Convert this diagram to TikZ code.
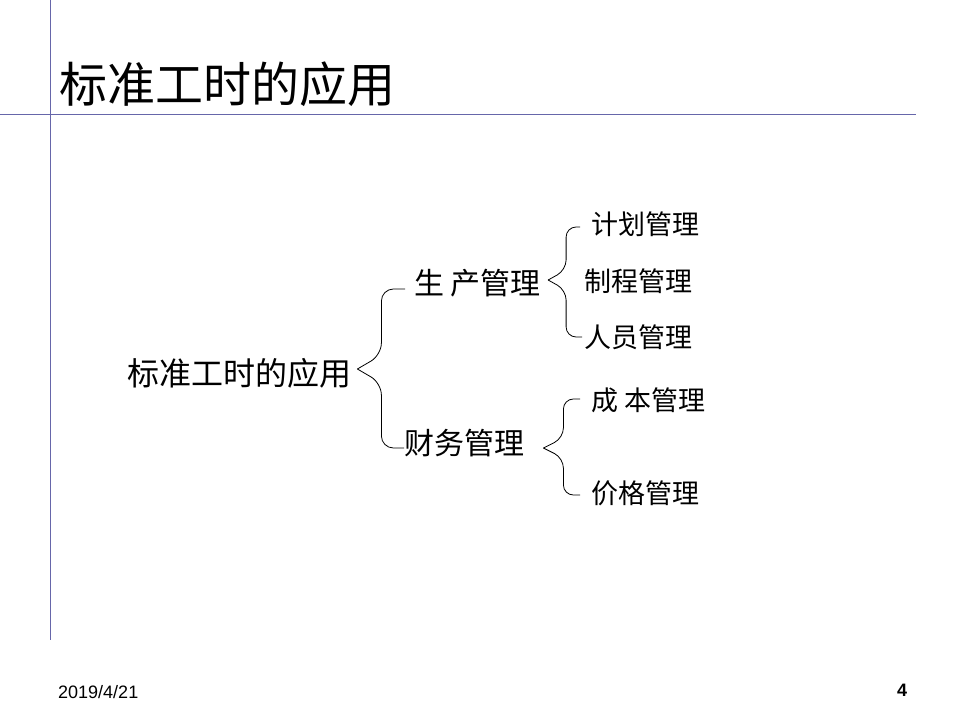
\documentclass[tikz,border=0pt]{standalone}
\usepackage{fontspec}
\setmainfont{Liberation Sans}
\newfontfamily\cjk{Noto Sans CJK SC}
\usetikzlibrary{positioning}
\definecolor{rulecol}{RGB}{102,102,170}

\begin{document}
\begin{tikzpicture}[x=1pt, y=-1pt,
  rule/.style={draw=rulecol, line width=1pt},
  brc/.style={draw=black, line width=0.8pt},
  txt/.style={inner sep=0pt, anchor=west},
  lvlA/.style={txt, font=\cjk\fontsize{30}{34}\selectfont},
  lvlB/.style={txt, font=\cjk\fontsize{27}{31}\selectfont}]
\useasboundingbox[fill=white] (0,0) rectangle (960,720);
%%-- slide rules ------------------------------------------
\draw[rule] (50,0) -- (50,640);
\draw[rule] (0,114) -- (916,114);
%%-- title ------------------------------------------------
\node[txt, font=\cjk\fontsize{48}{54}\selectfont] (title) at (59,84) {标准工时的应用};
%%-- tree -------------------------------------------------
\node[txt, font=\cjk\fontsize{32}{36}\selectfont] (root) at (127,373) {标准工时的应用};
\node[lvlA] (prod) at (414,283) {生 产管理};
\node[lvlA] (fin)  at (404,443) {财务管理};
\node[lvlB] (plan)  at (591,224) {计划管理};
\node[lvlB] (ctrl)  at (584,281) {制程管理};
\node[lvlB] (staff) at (584,337) {人员管理};
\node[lvlB] (cost)  at (591,400) {成 本管理};
\node[lvlB] (price) at (591,493) {价格管理};
%%-- brace: root -> prod / fin ----------------------------
\coordinate (bigTip)  at ([xshift=6pt,yshift=4pt]root.east);
\coordinate (bigMidA) at ([xshift=24pt,yshift=14pt]bigTip);
\coordinate (bigMidB) at ([xshift=24pt,yshift=-14pt]bigTip);
\coordinate (bigTop)  at ([xshift=-9pt,yshift=-6pt]prod.west);
\coordinate (bigBot)  at ([yshift=-5pt]fin.west);
\draw[brc, rounded corners=12pt] (bigTop) -| (bigMidA) -- (bigTip);
\draw[brc, rounded corners=12pt] (bigBot) -| (bigMidB) -- (bigTip);
%%-- brace: prod -> plan / ctrl / staff -------------------
\coordinate (upTip)  at ([xshift=7pt,yshift=3pt]prod.east);
\coordinate (upMidA) at ([xshift=18pt,yshift=10pt]upTip);
\coordinate (upMidB) at ([xshift=18pt,yshift=-10pt]upTip);
\coordinate (upTop)  at ([xshift=-11pt,yshift=-3pt]plan.west);
\coordinate (upBot)  at ([xshift=-2pt]staff.west);
\draw[brc, rounded corners=10pt] (upTop) -| (upMidA) -- (upTip);
\draw[brc, rounded corners=10pt] (upBot) -| (upMidB) -- (upTip);
%%-- brace: fin -> cost / price ---------------------------
\coordinate (loTip)  at ([xshift=19pt,yshift=-5pt]fin.east);
\coordinate (loMidA) at ([xshift=20pt,yshift=10pt]loTip);
\coordinate (loMidB) at ([xshift=20pt,yshift=-10pt]loTip);
\coordinate (loTop)  at ([xshift=-11pt,yshift=1pt]cost.west);
\coordinate (loBot)  at ([xshift=-11pt,yshift=-2pt]price.west);
\draw[brc, rounded corners=10pt] (loTop) -| (loMidA) -- (loTip);
\draw[brc, rounded corners=10pt] (loBot) -| (loMidB) -- (loTip);
%%-- footer -----------------------------------------------
\node[txt, font=\fontsize{18}{20}\selectfont] (date) at (58,692) {2019/4/21};
\node[inner sep=0pt, font=\bfseries\fontsize{18}{20}\selectfont] (page) at (902,690) {4};
\end{tikzpicture}
\end{document}
